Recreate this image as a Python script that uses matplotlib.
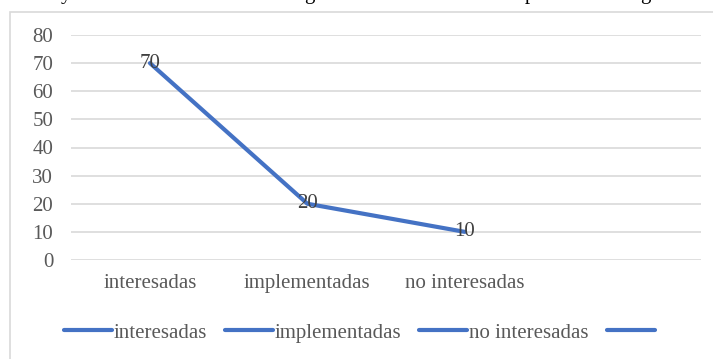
import numpy as np
import matplotlib
matplotlib.use("Agg")
import matplotlib.pyplot as plt
from matplotlib.lines import Line2D
from matplotlib.patches import Rectangle

categories = ["interesadas", "implementadas", "no interesadas", ""]
values = [70, 20, 10, np.nan]
legend_labels = ["interesadas", "implementadas", "no interesadas", ""]
y_ticks = [0, 10, 20, 30, 40, 50, 60, 70, 80]

LINE = "#4472C4"
TEXT = "#595959"
LABEL = "#404040"
GRID = "#D9D9D9"
FONT = "Liberation Serif"
FS = 15

W, H = 713, 359
fig = plt.figure(figsize=(W / 100, H / 100), dpi=100)
fig.patch.set_facecolor("white")

# chart frame
fig.patches.append(Rectangle((10 / W, -0.1), 1.2, 1 - 12 / H + 0.1,
                             transform=fig.transFigure, fill=False,
                             edgecolor=GRID, linewidth=1.2))

# descenders of the caption line above the chart
for ch, xp in [("y", 66), ("g", 309), ("p", 530), ("g", 645)]:
    fig.text(xp / W, 1 + 1.5 / H, ch, fontsize=FS, family=FONT,
             color="black", ha="center", va="baseline")

ax = fig.add_axes([71.25 / W, 1 - 260 / H, (701 - 71.25) / W, (260 - 35) / H])
x = np.arange(len(categories))
ax.plot(x, values, color=LINE, linewidth=3, solid_capstyle="round", zorder=3)
for xi, v in zip(x, values):
    if not np.isnan(v):
        ax.text(xi, v, f"{v:g}", ha="center", va="center", fontsize=FS,
                family=FONT, color=LABEL, zorder=4)

ax.set_xlim(-0.5, len(categories) - 0.5)
ax.set_ylim(0, 80)
ax.set_yticks(y_ticks)
ax.set_xticks(x)
ax.set_xticklabels(categories)
ax.yaxis.grid(True, color=GRID, linewidth=1.2)
ax.set_axisbelow(True)
for s in ax.spines.values():
    s.set_visible(False)
ax.tick_params(axis="both", length=0, labelsize=FS, labelcolor=TEXT)
ax.tick_params(axis="y", pad=13)
ax.tick_params(axis="x", pad=10)
for lab in ax.get_xticklabels() + ax.get_yticklabels():
    lab.set_family(FONT)

handles = [Line2D([], [], color=LINE, linewidth=3, solid_capstyle="round")
           for _ in legend_labels]
leg = fig.legend(handles, legend_labels, loc="center left",
                 bbox_to_anchor=(64 / W, 1 - 333 / H), ncol=4, frameon=False,
                 borderpad=0, borderaxespad=0, handlelength=2.3,
                 handletextpad=0.1, columnspacing=0.85,
                 prop={"family": FONT, "size": FS})
for t in leg.get_texts():
    t.set_color(TEXT)

fig.savefig("out.png", dpi=100, facecolor="white")
